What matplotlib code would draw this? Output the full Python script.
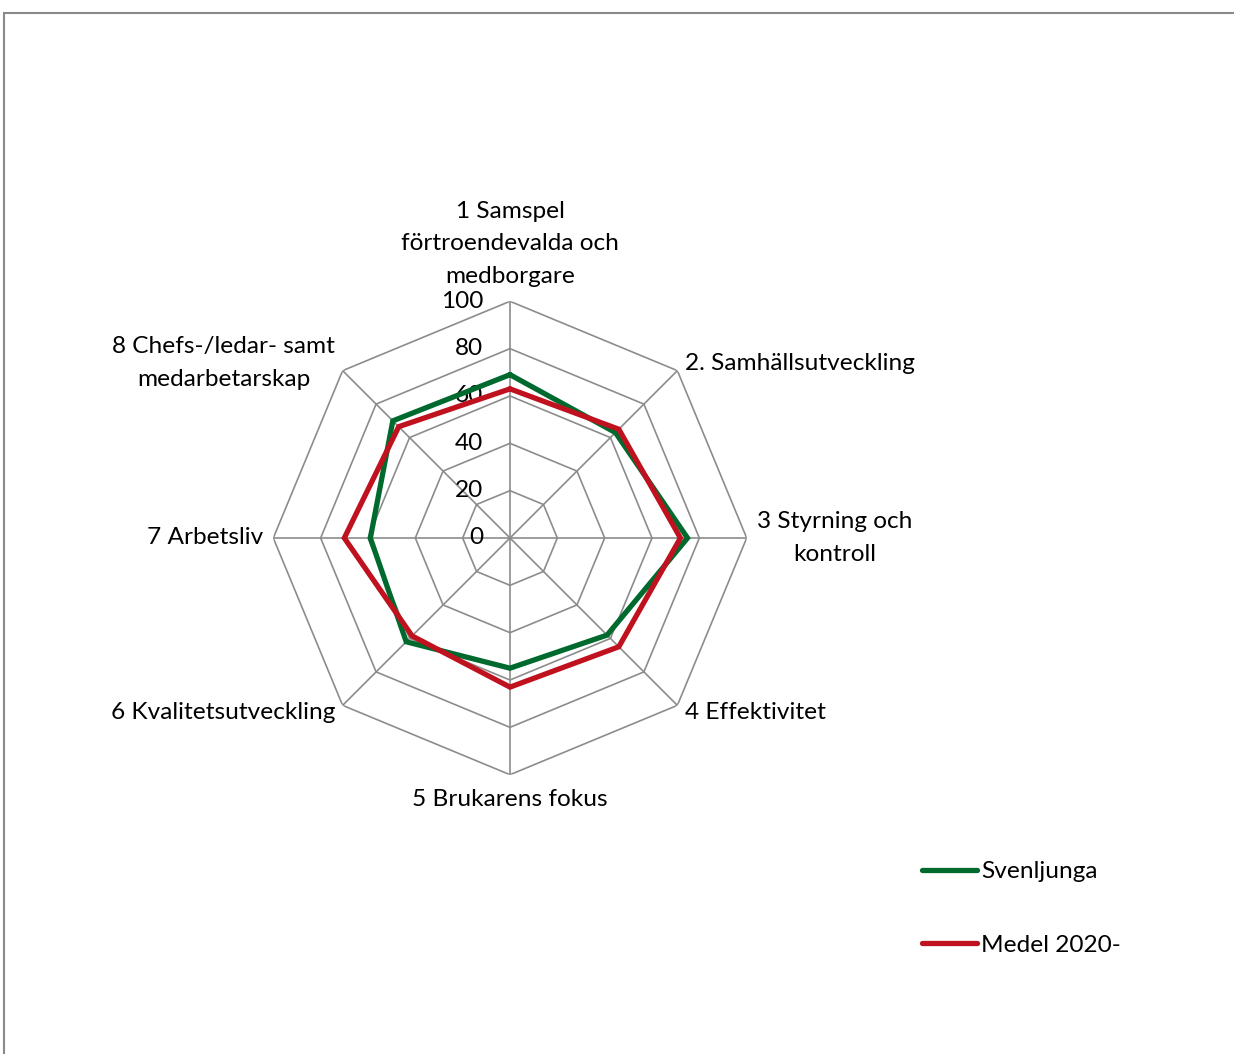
import numpy as np
import matplotlib
matplotlib.use("Agg")
import matplotlib.pyplot as plt
from matplotlib.patches import Rectangle
from matplotlib.transforms import offset_copy

# ===============================
# Data
# ===============================
categories = [
    "1 Samspel\nförtroendevalda och\nmedborgare",
    "2. Samhällsutveckling",
    "3 Styrning och\nkontroll",
    "4 Effektivitet",
    "5 Brukarens fokus",
    "6 Kvalitetsutveckling",
    "7 Arbetsliv",
    "8 Chefs-/ledar- samt\nmedarbetarskap",
]
svenljunga = [69, 63, 75, 58, 55, 62, 59, 70]
medel = [63, 65, 72, 65, 63, 58.5, 70, 66.5]
ring_values = [0, 20, 40, 60, 80, 100]
series_names = ["Svenljunga", "Medel 2020-"]

GREEN = "#006a2e"
RED = "#c0111f"
GRID = "#8c8c8c"

plt.rcParams["font.family"] = ["Lato", "DejaVu Sans"]
FS = 17.6

W, H = 1234, 1054
fig = plt.figure(figsize=(W / 100, H / 100), dpi=100)

# polar axes placed so the centre sits at (510, 538) px, radius 236.7 px
cx, cy, R = 510, 538, 236.7
ax = fig.add_axes([(cx - R) / W, (H - cy - R) / H, 2 * R / W, 2 * R / H], polar=True)
ax.set_theta_zero_location("N")
ax.set_theta_direction(-1)
ax.set_ylim(0, 100)
ax.axis("off")

n = len(categories)
angles = np.linspace(0, 2 * np.pi, n, endpoint=False)
closed = np.append(angles, angles[0])

# octagon grid
for r in ring_values[1:]:
    ax.plot(closed, [r] * (n + 1), color=GRID, lw=1.2, zorder=1)
for a in angles:
    ax.plot([a, a], [0, 100], color=GRID, lw=1.2, zorder=1)

# series
ax.plot(closed, svenljunga + svenljunga[:1], color=GREEN, lw=3.8, zorder=3,
        solid_joinstyle="miter", solid_capstyle="round", label=series_names[0])
ax.plot(closed, medel + medel[:1], color=RED, lw=3.8, zorder=4,
        solid_joinstyle="miter", solid_capstyle="round", label=series_names[1])

# ring value labels
tick_tr = offset_copy(ax.transData, fig=fig, x=-27, y=0, units="dots")
for r in ring_values:
    ax.text(0, r, str(r), transform=tick_tr, ha="right", va="center",
            fontsize=FS, zorder=2)

# category labels
label_pos = [
    (106.0, "center", "bottom"),
    (104.5, "left", "center"),
    (104.2, "left", "center"),
    (104.5, "left", "center"),
    (106.0, "center", "top"),
    (104.5, "right", "center"),
    (104.2, "right", "center"),
    (104.5, "right", "center"),
]
for a, lab, (r, ha, va) in zip(angles, categories, label_pos):
    ax.text(a, r, lab, ha=ha, va=va, multialignment="center",
            fontsize=FS, linespacing=1.69)

# legend
fig.legend(loc="upper left", bbox_to_anchor=(922 / W, 1 - 861 / H),
           frameon=False, fontsize=FS, handlelength=2.25, handletextpad=0.16,
           labelspacing=2.14, borderpad=0, borderaxespad=0)

# chart area frame
fig.add_artist(Rectangle((4 / W, -0.05), 1.2, (H - 13) / H + 0.05,
                         transform=fig.transFigure, fill=False,
                         edgecolor="#8a8a8a", lw=1.5))

fig.savefig("out.png", dpi=100)
